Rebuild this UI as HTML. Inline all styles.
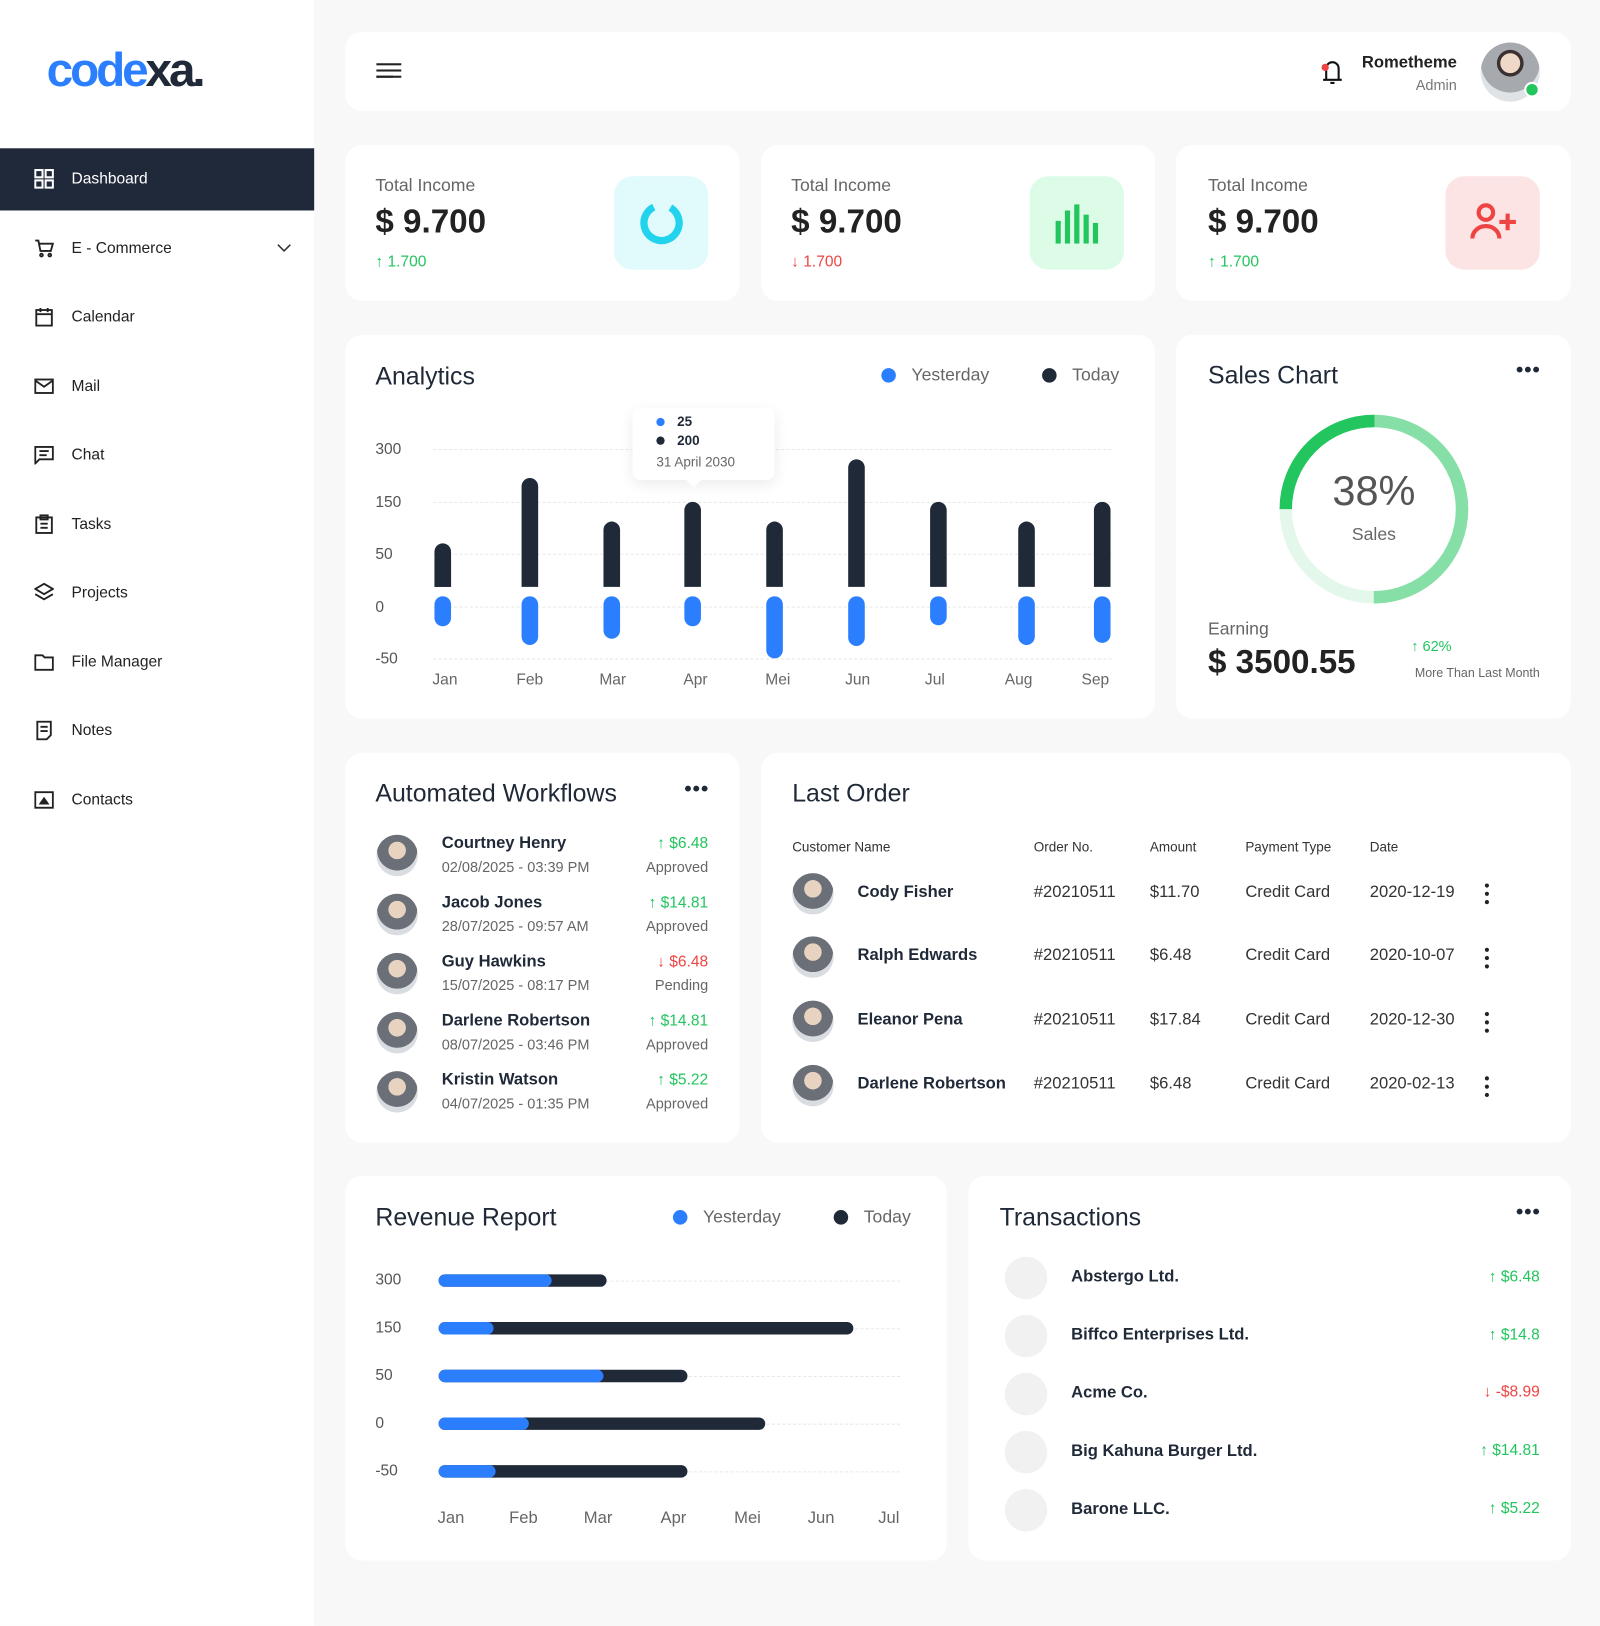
<!DOCTYPE html>
<html><head><meta charset="utf-8"><style>
*{margin:0;padding:0;box-sizing:border-box}
html,body{width:1600px;height:1626px;overflow:hidden;background:#f8f8f8;font-family:"Liberation Sans","DejaVu Sans",sans-serif;color:#1f2937}
#w{position:absolute;left:0;top:0;width:1543px;height:1568px;transform:scale(1.0369);transform-origin:0 0}
.a{position:absolute;white-space:nowrap}
.card{position:absolute;background:#fff;border-radius:16px}
.side{position:absolute;left:0;top:0;width:303px;height:1568px;background:#fff}
.mi{position:absolute;left:0;width:303px;height:60px;font-size:15px;color:#222}
.mi .t{position:absolute;left:69px;top:21px}
.mi .i{position:absolute;left:33px;top:20px;width:19px;height:19px}
.h{font-size:24px;color:#1f2937}
.g{color:#22c55e}.r{color:#ef4444}.gr{color:#666}
.dots{font-size:20px;font-weight:bold;letter-spacing:1px;color:#1f2937}
.av{position:absolute;width:40px;height:40px;border-radius:50%;background:radial-gradient(circle at 50% 38%,#e8d2c0 0 26%,#6b6f78 27% 60%,#d9dde2 61%)}
.grid{position:absolute;height:0;border-top:1px dashed #e8e8e8}
.yl{position:absolute;font-size:15px;color:#555}
</style></head><body><div id="w">

<div class="side">
 <div class="a" style="left:45px;top:40px;font-size:46px;font-weight:bold;letter-spacing:-3px"><span style="color:#2b7fff">code</span><span style="color:#1f2937">xa.</span></div>
 <div class="mi" style="top:143px;background:#20293a;color:#fff"><svg class="i" viewBox="0 0 19 19" fill="none" stroke="#fff" stroke-width="2"><rect x="1" y="1" width="7" height="7"/><rect x="11" y="1" width="7" height="7"/><rect x="1" y="11" width="7" height="7"/><rect x="11" y="11" width="7" height="7"/></svg><span class="t" style="color:#fff">Dashboard</span></div>
 <div class="mi" style="top:210px"><svg class="i" viewBox="0 0 19 19" fill="none" stroke="#222" stroke-width="1.8"><path d="M1 2h3l2 10h10l2-7H5"/><circle cx="7" cy="16" r="1.3"/><circle cx="15" cy="16" r="1.3"/></svg><span class="t">E - Commerce</span><svg style="position:absolute;left:267px;top:25px" width="14" height="9" viewBox="0 0 14 9" fill="none" stroke="#333" stroke-width="1.5"><path d="M1 1l6 6 6-6"/></svg></div>
 <div class="mi" style="top:276px"><svg class="i" viewBox="0 0 19 19" fill="none" stroke="#222" stroke-width="1.8"><rect x="2" y="3" width="15" height="15"/><path d="M6 1v4M13 1v4M2 7h15"/></svg><span class="t">Calendar</span></div>
 <div class="mi" style="top:343px"><svg class="i" viewBox="0 0 19 19" fill="none" stroke="#222" stroke-width="1.8"><rect x="1" y="3" width="17" height="13"/><path d="M1 4l8.5 6L18 4"/></svg><span class="t">Mail</span></div>
 <div class="mi" style="top:409px"><svg class="i" viewBox="0 0 19 19" fill="none" stroke="#222" stroke-width="1.8"><path d="M1 2h17v12H5l-4 4z"/><path d="M5 6h9M5 10h7"/></svg><span class="t">Chat</span></div>
 <div class="mi" style="top:476px"><svg class="i" viewBox="0 0 19 19" fill="none" stroke="#222" stroke-width="1.8"><rect x="2" y="3" width="15" height="15"/><path d="M6 1h7v4H6zM6 9h7M6 13h7"/></svg><span class="t">Tasks</span></div>
 <div class="mi" style="top:542px"><svg class="i" viewBox="0 0 19 19" fill="none" stroke="#222" stroke-width="1.8"><path d="M9.5 1L18 6l-8.5 5L1 6z"/><path d="M1 11l8.5 5 8.5-5"/></svg><span class="t">Projects</span></div>
 <div class="mi" style="top:609px"><svg class="i" viewBox="0 0 19 19" fill="none" stroke="#222" stroke-width="1.8"><path d="M1 3h7l2 2h8v12H1z"/></svg><span class="t">File Manager</span></div>
 <div class="mi" style="top:675px"><svg class="i" viewBox="0 0 19 19" fill="none" stroke="#222" stroke-width="1.8"><path d="M3 1h13v13l-4 4H3z"/><path d="M6 6h7M6 10h7"/></svg><span class="t">Notes</span></div>
 <div class="mi" style="top:742px"><svg class="i" viewBox="0 0 19 19" fill="none" stroke="#222" stroke-width="1.8"><rect x="1" y="2" width="17" height="15"/><path d="M6 13l3.5-5 3.5 5z" fill="#222"/></svg><span class="t">Contacts</span></div>
</div>

<!-- header -->
<div class="card" style="left:333px;top:31px;width:1182px;height:76px">
 <div class="a" style="left:30px;top:30px;width:23px;height:2px;background:#222;box-shadow:0 6px 0 #222,0 12px 0 #222;width:24px"></div>
 <div class="a" style="left:30px;top:42px;width:16px;height:2px;background:#222"></div>
 <svg class="a" style="left:940px;top:22px" width="24" height="30" viewBox="0 0 24 30" fill="none" stroke="#111" stroke-width="2"><path d="M6 24V13a6 6 0 0 1 12 0v11M3 24h18M10 27h4"/><circle cx="5" cy="12" r="3.5" fill="#ef4444" stroke="none"/></svg>
 <div class="a" style="right:110px;top:21px;font-size:16px;font-weight:bold;color:#222">Rometheme</div>
 <div class="a" style="right:110px;top:43px;font-size:14px;color:#777">Admin</div>
 <div class="a" style="left:1095px;top:10px;width:57px;height:57px;border-radius:50%;background:radial-gradient(circle at 50% 35%,#f0d8c8 0 20%,#3a3030 21% 27%,#a6a9ae 28% 60%,#dfe3e6 61%)"></div>
 <div class="a" style="left:1137px;top:48px;width:15px;height:15px;border-radius:50%;background:#22c55e;border:2px solid #fff"></div>
</div>

<!-- stat cards -->
<div class="card" style="left:333px;top:140px;width:380px;height:150px">
 <div class="a gr" style="left:29px;top:29px;font-size:17px">Total Income</div>
 <div class="a" style="left:29px;top:55px;font-size:32px;font-weight:bold;color:#222">$ 9.700</div>
 <div class="a g" style="left:29px;top:104px;font-size:15px">↑ 1.700</div>
 <div class="a" style="left:259px;top:30px;width:91px;height:90px;border-radius:18px;background:#e1fafc"><svg style="position:absolute;left:24px;top:23px" width="44" height="44" viewBox="0 0 44 44"><circle cx="22" cy="22" r="17" fill="none" stroke="#22d3ee" stroke-width="7" stroke-dasharray="90 17" transform="rotate(-60 22 22)"/></svg></div>
</div>
<div class="card" style="left:734px;top:140px;width:380px;height:150px">
 <div class="a gr" style="left:29px;top:29px;font-size:17px">Total Income</div>
 <div class="a" style="left:29px;top:55px;font-size:32px;font-weight:bold;color:#222">$ 9.700</div>
 <div class="a r" style="left:29px;top:104px;font-size:15px">↓ 1.700</div>
 <div class="a" style="left:259px;top:30px;width:91px;height:90px;border-radius:18px;background:#dcfce7"><svg style="position:absolute;left:25px;top:27px" width="42" height="38" viewBox="0 0 42 38" fill="#22c55e"><rect x="0" y="16" width="5" height="22"/><rect x="9" y="6" width="5" height="32"/><rect x="18" y="0" width="5" height="38"/><rect x="27" y="10" width="5" height="28"/><rect x="36" y="18" width="5" height="20"/></svg></div>
</div>
<div class="card" style="left:1134px;top:140px;width:381px;height:150px">
 <div class="a gr" style="left:31px;top:29px;font-size:17px">Total Income</div>
 <div class="a" style="left:31px;top:55px;font-size:32px;font-weight:bold;color:#222">$ 9.700</div>
 <div class="a g" style="left:31px;top:104px;font-size:15px">↑ 1.700</div>
 <div class="a" style="left:260px;top:30px;width:91px;height:90px;border-radius:18px;background:#fce4e4"><svg style="position:absolute;left:22px;top:24px" width="48" height="42" viewBox="0 0 48 42" fill="none" stroke="#ef4444" stroke-width="4"><circle cx="17" cy="11" r="7"/><path d="M4 36a13 12 0 0 1 26 0M30 20h16M38 12v16"/></svg></div>
</div>

<!-- Analytics -->
<div class="card" style="left:333px;top:323px;width:781px;height:370px"></div>
<div class="a h" style="left:362px;top:350px">Analytics</div>
<div class="a" style="left:850px;top:355px;width:14px;height:14px;border-radius:50%;background:#2b7fff"></div>
<div class="a gr" style="left:879px;top:352px;font-size:17px">Yesterday</div>
<div class="a" style="left:1005px;top:355px;width:14px;height:14px;border-radius:50%;background:#1f2937"></div>
<div class="a gr" style="left:1034px;top:352px;font-size:17px">Today</div>
<div class="grid" style="left:418px;top:433px;width:654px"></div>
<div class="grid" style="left:418px;top:484px;width:654px"></div>
<div class="grid" style="left:418px;top:534px;width:654px"></div>
<div class="grid" style="left:418px;top:585px;width:654px"></div>
<div class="grid" style="left:418px;top:635px;width:654px"></div>
<div class="yl" style="left:362px;top:425px">300</div>
<div class="yl" style="left:362px;top:476px">150</div>
<div class="yl" style="left:362px;top:526px">50</div>
<div class="yl" style="left:362px;top:577px">0</div>
<div class="yl" style="left:362px;top:627px">-50</div>
<svg class="a" style="left:0;top:0" width="1200" height="700">
<g stroke-linecap="round" stroke-width="16">
<g stroke="#1f2937">
<path d="M427 532V566"/><path d="M511 469V566"/><path d="M590 511V566"/><path d="M668 492V566"/><path d="M747 511V566"/><path d="M826 451V566"/><path d="M905 492V566"/><path d="M990 511V566"/><path d="M1063 492V566"/>
</g>
<g stroke="#2b7fff">
<path d="M427 583V596"/><path d="M511 583V614"/><path d="M590 583V608"/><path d="M668 583V596"/><path d="M747 583V627"/><path d="M826 583V615"/><path d="M905 583V595"/><path d="M990 583V614"/><path d="M1063 583V612"/>
</g></g>
<g fill="#fff"><rect x="419" y="566" width="660" height="9"/></g>
<g fill="#1f2937"><rect x="419" y="540" width="16" height="26"/></g>
</svg>
<div class="a" style="left:610px;top:393px;width:137px;height:70px;background:#fff;border-radius:8px;box-shadow:0 4px 14px rgba(0,0,0,.08)"></div>
<div class="a" style="left:664px;top:458px;width:10px;height:10px;background:#fff;transform:rotate(45deg)"></div>
<div class="a" style="left:633px;top:403px;width:8px;height:8px;border-radius:50%;background:#2b7fff"></div>
<div class="a" style="left:653px;top:399px;font-size:13px;font-weight:bold">25</div>
<div class="a" style="left:633px;top:421px;width:8px;height:8px;border-radius:50%;background:#1f2937"></div>
<div class="a" style="left:653px;top:417px;font-size:13px;font-weight:bold">200</div>
<div class="a gr" style="left:633px;top:438px;font-size:13px">31 April 2030</div>
<div class="a gr" style="left:417px;top:647px;font-size:15px">Jan</div>
<div class="a gr" style="left:498px;top:647px;font-size:15px">Feb</div>
<div class="a gr" style="left:578px;top:647px;font-size:15px">Mar</div>
<div class="a gr" style="left:659px;top:647px;font-size:15px">Apr</div>
<div class="a gr" style="left:738px;top:647px;font-size:15px">Mei</div>
<div class="a gr" style="left:815px;top:647px;font-size:15px">Jun</div>
<div class="a gr" style="left:892px;top:647px;font-size:15px">Jul</div>
<div class="a gr" style="left:969px;top:647px;font-size:15px">Aug</div>
<div class="a gr" style="left:1043px;top:647px;font-size:15px">Sep</div>

<!-- Sales chart -->
<div class="card" style="left:1134px;top:323px;width:381px;height:370px"></div>
<div class="a h" style="left:1165px;top:349px">Sales Chart</div>
<div class="a dots" style="left:1462px;top:346px">•••</div>
<svg class="a" style="left:1228px;top:394px" width="194" height="194" viewBox="0 0 194 194">
<circle cx="97" cy="97" r="85" fill="none" stroke="#e3f8ea" stroke-width="12"/>
<circle cx="97" cy="97" r="85" fill="none" stroke="#86dfa6" stroke-width="12" stroke-dasharray="267 400" transform="rotate(-90 97 97)"/>
<circle cx="97" cy="97" r="85" fill="none" stroke="#22c55e" stroke-width="12" stroke-dasharray="134 400" transform="rotate(180 97 97)"/>
</svg>
<div class="a" style="left:1275px;top:452px;width:100px;text-align:center;font-size:40px;color:#555">38%</div>
<div class="a gr" style="left:1275px;top:506px;width:100px;text-align:center;font-size:17px">Sales</div>
<div class="a gr" style="left:1165px;top:597px;font-size:17px">Earning</div>
<div class="a" style="left:1165px;top:620px;font-size:32px;font-weight:bold;color:#222">$ 3500.55</div>
<div class="a g" style="left:1361px;top:615px;font-size:14px">↑ 62%</div>
<div class="a gr" style="right:58px;top:642px;font-size:12px">More Than Last Month</div>

<!-- Automated workflows -->
<div class="card" style="left:333px;top:726px;width:380px;height:376px"></div>
<div class="a h" style="left:362px;top:752px">Automated Workflows</div>
<div class="a dots" style="left:660px;top:750px">•••</div>
<div class="av" style="left:363px;top:805px"></div><div class="a" style="left:426px;top:805px;font-size:16px;font-weight:bold">Courtney Henry</div><div class="a gr" style="left:426px;top:828px;font-size:14px">02/08/2025 - 03:39 PM</div><div class="a g" style="right:860px;top:805px;font-size:15px">↑ $6.48</div><div class="a gr" style="right:860px;top:828px;font-size:14px">Approved</div>
<div class="av" style="left:363px;top:862px"></div><div class="a" style="left:426px;top:862px;font-size:16px;font-weight:bold">Jacob Jones</div><div class="a gr" style="left:426px;top:885px;font-size:14px">28/07/2025 - 09:57 AM</div><div class="a g" style="right:860px;top:862px;font-size:15px">↑ $14.81</div><div class="a gr" style="right:860px;top:885px;font-size:14px">Approved</div>
<div class="av" style="left:363px;top:919px"></div><div class="a" style="left:426px;top:919px;font-size:16px;font-weight:bold">Guy Hawkins</div><div class="a gr" style="left:426px;top:942px;font-size:14px">15/07/2025 - 08:17 PM</div><div class="a r" style="right:860px;top:919px;font-size:15px">↓ $6.48</div><div class="a gr" style="right:860px;top:942px;font-size:14px">Pending</div>
<div class="av" style="left:363px;top:976px"></div><div class="a" style="left:426px;top:976px;font-size:16px;font-weight:bold">Darlene Robertson</div><div class="a gr" style="left:426px;top:999px;font-size:14px">08/07/2025 - 03:46 PM</div><div class="a g" style="right:860px;top:976px;font-size:15px">↑ $14.81</div><div class="a gr" style="right:860px;top:999px;font-size:14px">Approved</div>
<div class="av" style="left:363px;top:1033px"></div><div class="a" style="left:426px;top:1033px;font-size:16px;font-weight:bold">Kristin Watson</div><div class="a gr" style="left:426px;top:1056px;font-size:14px">04/07/2025 - 01:35 PM</div><div class="a g" style="right:860px;top:1033px;font-size:15px">↑ $5.22</div><div class="a gr" style="right:860px;top:1056px;font-size:14px">Approved</div>

<!-- Last order -->
<div class="card" style="left:734px;top:726px;width:781px;height:376px"></div>
<div class="a h" style="left:764px;top:752px">Last Order</div>
<div class="a" style="left:764px;top:809px;font-size:13px;color:#333">Customer Name</div>
<div class="a" style="left:997px;top:809px;font-size:13px;color:#333">Order No.</div>
<div class="a" style="left:1109px;top:809px;font-size:13px;color:#333">Amount</div>
<div class="a" style="left:1201px;top:809px;font-size:13px;color:#333">Payment Type</div>
<div class="a" style="left:1321px;top:809px;font-size:13px;color:#333">Date</div>
<div class="av" style="left:764px;top:842px"></div><div class="a" style="left:827px;top:852px;font-size:16px;font-weight:bold">Cody Fisher</div><div class="a" style="left:997px;top:852px;font-size:16px;color:#333">#20210511</div><div class="a" style="left:1109px;top:852px;font-size:16px;color:#333">$11.70</div><div class="a" style="left:1201px;top:852px;font-size:16px;color:#333">Credit Card</div><div class="a" style="left:1321px;top:852px;font-size:16px;color:#333">2020-12-19</div><div class="a" style="left:1432px;top:852px;width:4px;height:4px;border-radius:50%;background:#222;box-shadow:0 8px 0 #222,0 16px 0 #222"></div>
<div class="av" style="left:764px;top:903px"></div><div class="a" style="left:827px;top:913px;font-size:16px;font-weight:bold">Ralph Edwards</div><div class="a" style="left:997px;top:913px;font-size:16px;color:#333">#20210511</div><div class="a" style="left:1109px;top:913px;font-size:16px;color:#333">$6.48</div><div class="a" style="left:1201px;top:913px;font-size:16px;color:#333">Credit Card</div><div class="a" style="left:1321px;top:913px;font-size:16px;color:#333">2020-10-07</div><div class="a" style="left:1432px;top:914px;width:4px;height:4px;border-radius:50%;background:#222;box-shadow:0 8px 0 #222,0 16px 0 #222"></div>
<div class="av" style="left:764px;top:965px"></div><div class="a" style="left:827px;top:975px;font-size:16px;font-weight:bold">Eleanor Pena</div><div class="a" style="left:997px;top:975px;font-size:16px;color:#333">#20210511</div><div class="a" style="left:1109px;top:975px;font-size:16px;color:#333">$17.84</div><div class="a" style="left:1201px;top:975px;font-size:16px;color:#333">Credit Card</div><div class="a" style="left:1321px;top:975px;font-size:16px;color:#333">2020-12-30</div><div class="a" style="left:1432px;top:976px;width:4px;height:4px;border-radius:50%;background:#222;box-shadow:0 8px 0 #222,0 16px 0 #222"></div>
<div class="av" style="left:764px;top:1027px"></div><div class="a" style="left:827px;top:1037px;font-size:16px;font-weight:bold">Darlene Robertson</div><div class="a" style="left:997px;top:1037px;font-size:16px;color:#333">#20210511</div><div class="a" style="left:1109px;top:1037px;font-size:16px;color:#333">$6.48</div><div class="a" style="left:1201px;top:1037px;font-size:16px;color:#333">Credit Card</div><div class="a" style="left:1321px;top:1037px;font-size:16px;color:#333">2020-02-13</div><div class="a" style="left:1432px;top:1038px;width:4px;height:4px;border-radius:50%;background:#222;box-shadow:0 8px 0 #222,0 16px 0 #222"></div>

<!-- Revenue report -->
<div class="card" style="left:333px;top:1134px;width:580px;height:371px"></div>
<div class="a h" style="left:362px;top:1161px">Revenue Report</div>
<div class="a" style="left:649px;top:1167px;width:14px;height:14px;border-radius:50%;background:#2b7fff"></div>
<div class="a gr" style="left:678px;top:1164px;font-size:17px">Yesterday</div>
<div class="a" style="left:804px;top:1167px;width:14px;height:14px;border-radius:50%;background:#1f2937"></div>
<div class="a gr" style="left:833px;top:1164px;font-size:17px">Today</div>
<div class="grid" style="left:423px;top:1235px;width:445px"></div>
<div class="grid" style="left:423px;top:1281px;width:445px"></div>
<div class="grid" style="left:423px;top:1327px;width:445px"></div>
<div class="grid" style="left:423px;top:1373px;width:445px"></div>
<div class="grid" style="left:423px;top:1419px;width:445px"></div>
<div class="yl" style="left:362px;top:1226px">300</div>
<div class="yl" style="left:362px;top:1272px">150</div>
<div class="yl" style="left:362px;top:1318px">50</div>
<div class="yl" style="left:362px;top:1364px">0</div>
<div class="yl" style="left:362px;top:1410px">-50</div>
<div class="a" style="left:423px;top:1229px;width:162px;height:12px;border-radius:6px;background:#1f2937"><div style="width:109px;height:12px;border-radius:6px;background:#2b7fff"></div></div>
<div class="a" style="left:423px;top:1275px;width:400px;height:12px;border-radius:6px;background:#1f2937"><div style="width:53px;height:12px;border-radius:6px;background:#2b7fff"></div></div>
<div class="a" style="left:423px;top:1321px;width:240px;height:12px;border-radius:6px;background:#1f2937"><div style="width:159px;height:12px;border-radius:6px;background:#2b7fff"></div></div>
<div class="a" style="left:423px;top:1367px;width:315px;height:12px;border-radius:6px;background:#1f2937"><div style="width:87px;height:12px;border-radius:6px;background:#2b7fff"></div></div>
<div class="a" style="left:423px;top:1413px;width:240px;height:12px;border-radius:6px;background:#1f2937"><div style="width:55px;height:12px;border-radius:6px;background:#2b7fff"></div></div>
<div class="a gr" style="left:422px;top:1456px;font-size:16px">Jan</div>
<div class="a gr" style="left:491px;top:1456px;font-size:16px">Feb</div>
<div class="a gr" style="left:563px;top:1456px;font-size:16px">Mar</div>
<div class="a gr" style="left:637px;top:1456px;font-size:16px">Apr</div>
<div class="a gr" style="left:708px;top:1456px;font-size:16px">Mei</div>
<div class="a gr" style="left:779px;top:1456px;font-size:16px">Jun</div>
<div class="a gr" style="left:847px;top:1456px;font-size:16px">Jul</div>

<!-- Transactions -->
<div class="card" style="left:934px;top:1134px;width:581px;height:371px"></div>
<div class="a h" style="left:964px;top:1161px">Transactions</div>
<div class="a dots" style="left:1462px;top:1158px">•••</div>
<div class="a" style="left:969px;top:1212px;width:41px;height:41px;border-radius:50%;background:#f1f1f1"></div><div class="a" style="left:1033px;top:1223px;font-size:16px;font-weight:bold">Abstergo Ltd.</div><div class="a g" style="right:58px;top:1223px;font-size:15px">↑ $6.48</div>
<div class="a" style="left:969px;top:1268px;width:41px;height:41px;border-radius:50%;background:#f1f1f1"></div><div class="a" style="left:1033px;top:1279px;font-size:16px;font-weight:bold">Biffco Enterprises Ltd.</div><div class="a g" style="right:58px;top:1279px;font-size:15px">↑ $14.8</div>
<div class="a" style="left:969px;top:1324px;width:41px;height:41px;border-radius:50%;background:#f1f1f1"></div><div class="a" style="left:1033px;top:1335px;font-size:16px;font-weight:bold">Acme Co.</div><div class="a r" style="right:58px;top:1334px;font-size:15px">↓ -$8.99</div>
<div class="a" style="left:969px;top:1380px;width:41px;height:41px;border-radius:50%;background:#f1f1f1"></div><div class="a" style="left:1033px;top:1391px;font-size:16px;font-weight:bold">Big Kahuna Burger Ltd.</div><div class="a g" style="right:58px;top:1390px;font-size:15px">↑ $14.81</div>
<div class="a" style="left:969px;top:1436px;width:41px;height:41px;border-radius:50%;background:#f1f1f1"></div><div class="a" style="left:1033px;top:1447px;font-size:16px;font-weight:bold">Barone LLC.</div><div class="a g" style="right:58px;top:1446px;font-size:15px">↑ $5.22</div>

</div></body></html>
